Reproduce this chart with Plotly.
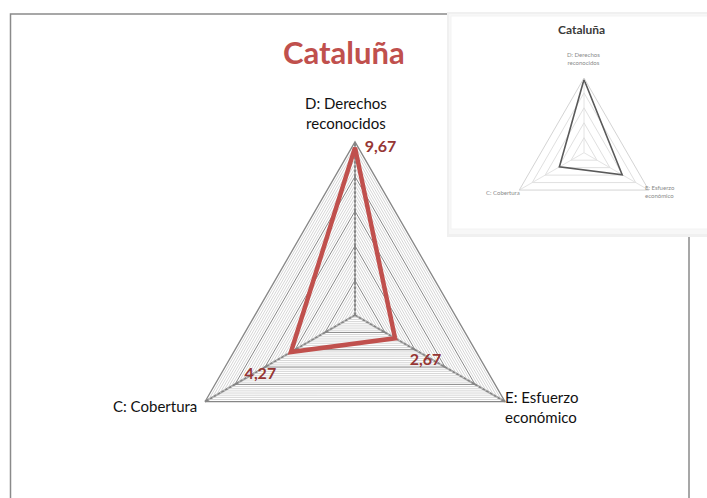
import numpy as np
import plotly.graph_objects as go

# ---- data ----
categories = ["D: Derechos reconocidos", "E: Esfuerzo económico", "C: Cobertura"]
values_main = [9.67, 2.67, 4.27]
value_labels = ["9,67", "2,67", "4,27"]
values_inset = [9.8, 5.9, 3.8]
title_text = "Cataluña"

W, H = 707, 498
FONT = "Lato"
RED = "#C0504D"
DARKRED = "#963634"
GRID = "#868686"


def px(x):
    return x / W


def py(y):
    return 1 - y / H


fig = go.Figure()

theta_closed = categories + [categories[0]]

# minor grid triangles (main chart)
for v in np.arange(0.25, 10, 0.25):
    if abs(v / 2 - round(v / 2)) < 1e-9:
        continue
    fig.add_trace(go.Scatterpolar(
        r=[v] * 4, theta=theta_closed, mode="lines",
        line=dict(color="#cccccc", width=0.8),
        hoverinfo="skip", showlegend=False, subplot="polar"))

# data labels (drawn first so nothing covers the series line)
fig.add_trace(go.Scatterpolar(
    r=values_main, theta=categories, mode="markers+text",
    marker=dict(size=[14, 22, 22], color="rgba(0,0,0,0)", line=dict(width=0)),
    text=value_labels, textposition=["middle right", "bottom right", "bottom left"],
    textfont=dict(family=FONT, size=16, color=DARKRED, weight="bold"),
    hoverinfo="skip", showlegend=False, subplot="polar"))

# main series (closed polygon)
fig.add_trace(go.Scatterpolar(
    r=values_main + values_main[:2], theta=categories + categories[:2], mode="lines",
    line=dict(color=RED, width=4.5), showlegend=False, subplot="polar"))

# inset series
fig.add_trace(go.Scatterpolar(
    r=values_inset + [values_inset[0]], theta=theta_closed, mode="lines",
    line=dict(color="#5a5a5a", width=1.6), showlegend=False, subplot="polar2"))

shapes = [
    # main chart border
    dict(type="rect", xref="paper", yref="paper", x0=px(10.5), x1=px(689), y0=-0.05, y1=py(14),
         line=dict(color="#8a8a8a", width=1.5), fillcolor="rgba(0,0,0,0)", layer="below"),
    # inset frame
    dict(type="rect", xref="paper", yref="paper", x0=px(447), x1=1.02, y0=py(237), y1=py(12),
         line=dict(width=0), fillcolor="#f0f0f0", layer="below"),
    dict(type="rect", xref="paper", yref="paper", x0=px(449), x1=1.02, y0=py(234), y1=py(14),
         line=dict(width=0), fillcolor="#f7f7f7", layer="below"),
    dict(type="rect", xref="paper", yref="paper", x0=px(451), x1=1.02, y0=py(229), y1=py(16),
         line=dict(color="#f3f3f3", width=1), fillcolor="#ffffff", layer="below"),
]

annotations = [
    dict(text="D: Derechos<br>reconocidos", x=px(346), y=py(113), xref="paper", yref="paper",
         showarrow=False, xanchor="center", yanchor="middle",
         font=dict(family=FONT, size=15, color="#111111")),
    dict(text="C: Cobertura", x=px(199), y=py(406), xref="paper", yref="paper",
         showarrow=False, xanchor="right", yanchor="middle",
         font=dict(family=FONT, size=15, color="#111111")),
    dict(text="E: Esfuerzo<br>económico", x=px(503), y=py(407), xref="paper", yref="paper",
         showarrow=False, xanchor="left", yanchor="middle", align="left",
         font=dict(family=FONT, size=15, color="#111111")),
    dict(text="<b>" + title_text + "</b>", x=px(344), y=py(52), xref="paper", yref="paper",
         showarrow=False, xanchor="center", yanchor="middle",
         font=dict(family=FONT, size=31, color=RED)),
    # inset texts
    dict(text="<b>" + title_text + "</b>", x=px(581), y=py(29), xref="paper", yref="paper",
         showarrow=False, xanchor="center", yanchor="middle",
         font=dict(family=FONT, size=12, color="#3a3a3a")),
    dict(text="D: Derechos<br>reconocidos", x=px(583), y=py(58), xref="paper", yref="paper",
         showarrow=False, xanchor="center", yanchor="middle",
         font=dict(family=FONT, size=6, color="#8a8a8a")),
    dict(text="C: Cobertura", x=px(522), y=py(192), xref="paper", yref="paper",
         showarrow=False, xanchor="right", yanchor="middle",
         font=dict(family=FONT, size=6, color="#8a8a8a")),
    dict(text="E: Esfuerzo<br>económico", x=px(643), y=py(191), xref="paper", yref="paper",
         showarrow=False, xanchor="left", yanchor="middle", align="left",
         font=dict(family=FONT, size=6, color="#8a8a8a")),
]

fig.update_layout(
    width=W, height=H,
    margin=dict(l=0, r=0, t=0, b=0),
    paper_bgcolor="white", plot_bgcolor="white",
    showlegend=False,
    shapes=shapes, annotations=annotations,
    polar=dict(
        domain=dict(x=[px(181.8), px(528.2)], y=[9.7 / H, 356.1 / H]),
        bgcolor="rgba(0,0,0,0)",
        gridshape="linear",
        radialaxis=dict(range=[0, 10], dtick=2, showticklabels=False, ticks="",
                        showline=False, gridcolor=GRID, gridwidth=1.2),
        angularaxis=dict(direction="clockwise", rotation=90, showticklabels=False, ticks="",
                         showline=True, linecolor=GRID, linewidth=1.3,
                         gridcolor=GRID, gridwidth=1.5),
    ),
    polar2=dict(
        domain=dict(x=[px(509.3), px(658.7)], y=[270.6 / H, 420.0 / H]),
        bgcolor="rgba(0,0,0,0)",
        gridshape="linear",
        radialaxis=dict(range=[0, 10], dtick=2, showticklabels=False, ticks="",
                        showline=False, gridcolor="#e0e0e0", gridwidth=1),
        angularaxis=dict(direction="clockwise", rotation=90, showticklabels=False, ticks="",
                         showline=True, linecolor="#d4d4d4", linewidth=1,
                         gridcolor="#e4e4e4", gridwidth=1),
    ),
)

fig.write_html("out.html", config=dict(displayModeBar=False),
               post_script="document.body.style.margin='0';document.body.style.overflow='hidden';")
